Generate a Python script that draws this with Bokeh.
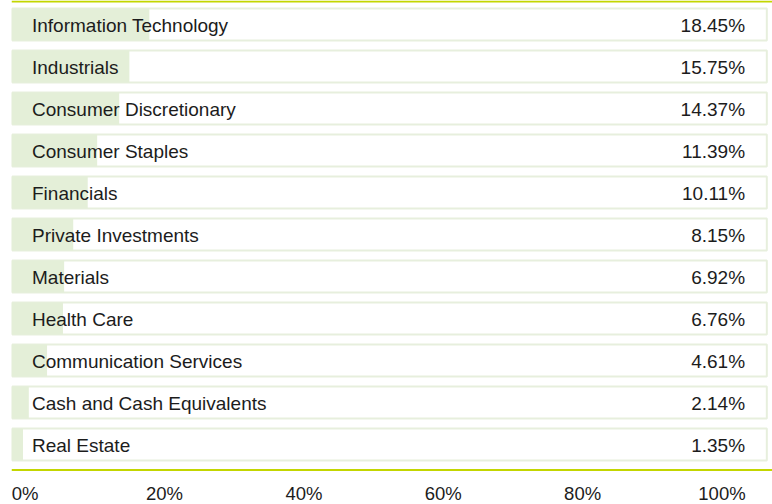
from bokeh.plotting import figure
from bokeh.models import Range1d, Span, ColumnDataSource
from bokeh.core.properties import value
from bokeh.embed import file_html
from bokeh.resources import INLINE

categories = ["Information Technology", "Industrials", "Consumer Discretionary",
              "Consumer Staples", "Financials", "Private Investments", "Materials",
              "Health Care", "Communication Services", "Cash and Cash Equivalents",
              "Real Estate"]
values = [18.45, 15.75, 14.37, 11.39, 10.11, 8.15, 6.92, 6.76, 4.61, 2.14, 1.35]
tick_values = [0, 20, 40, 60, 80, 100]
tick_labels = ["0%", "20%", "40%", "60%", "80%", "100%"]

GREEN = "#c3d600"
BAR = "#e4efd8"
BAND_LINE = "#e7efdd"
TEXT = "#1c1c1c"
FONT = value("Liberation Sans")

n = len(categories)
rows = list(range(n))
half = 0.381
src = ColumnDataSource(dict(
    y=rows,
    top=[r - half for r in rows],
    bottom=[r + half for r in rows],
    cat=categories,
    val=values,
    lbl=[f"{v:.2f}%" for v in values],
))

x0, x1 = -0.203, 102.77
p = figure(width=772, height=504, output_backend="svg", toolbar_location=None,
           x_range=Range1d(x0, x1), y_range=Range1d(n + 0.4286, -0.5714),
           x_axis_location=None, y_axis_location=None,
           min_border_left=11, min_border_right=0, min_border_top=0,
           min_border_bottom=0)
p.outline_line_color = None
p.grid.grid_line_color = None
p.background_fill_color = "white"
p.border_fill_color = "white"

# row bands (white with light outline)
p.quad(left=-0.1, right=102.0, top="top", bottom="bottom", source=src,
       fill_color="white", line_color=BAND_LINE, line_width=2)
# bars
p.quad(left=x0, right="val", top="top", bottom="bottom", source=src,
       fill_color=BAR, line_color=None)

p.text(x=0, y="y", text="cat", source=src, x_offset=19, y_offset=1.5,
       text_font=FONT, text_font_size="19px", text_color=TEXT,
       text_baseline="alphabetic", text_align="left")
p.text(x=100, y="y", text="lbl", source=src, x_offset=-7, y_offset=1.5,
       text_font=FONT, text_font_size="19px", text_color=TEXT,
       text_baseline="alphabetic", text_align="right")

p.add_layout(Span(location=-0.548, dimension="width", line_color=GREEN, line_width=2))
p.add_layout(Span(location=n - 0.393, dimension="width", line_color=GREEN, line_width=2))

# bottom scale labels
p.extra_x_ranges = {"tk": Range1d(-1.966, 107.25)}
tsrc = ColumnDataSource(dict(x=tick_values, y=[n + 0.333] * len(tick_values), t=tick_labels))
p.text(x="x", y="y", text="t", source=tsrc, x_range_name="tk", y_offset=-7,
       text_font=FONT, text_font_size="18.5px", text_color=TEXT,
       text_baseline="alphabetic", text_align="center")

open("out.html", "w").write(file_html(p, INLINE))
